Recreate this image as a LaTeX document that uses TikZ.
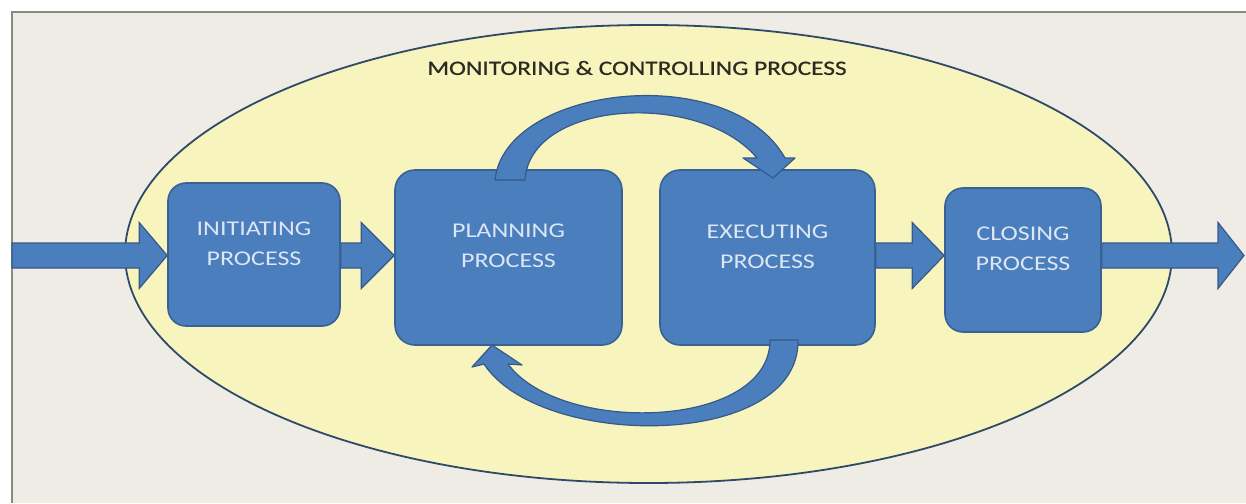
\documentclass[tikz,border=0pt]{standalone}
\usepackage{fontspec}
\setmainfont{Carlito}
\newfontfamily\widefont[FakeStretch=1.24]{Carlito}
\newfontfamily\titlefont[FakeStretch=1.24,FakeBold=0.6]{Carlito}
\usetikzlibrary{calc}
\pgfdeclarelayer{back}
\pgfdeclarelayer{mid}
\pgfsetlayers{back,mid,main}
\definecolor{pagebg}{HTML}{EEECE5}
\definecolor{frameline}{HTML}{8C8A80}
\definecolor{ellfill}{HTML}{F7F5BD}
\definecolor{ellline}{HTML}{2E4A68}
\definecolor{boxfill}{HTML}{4A7EBD}
\definecolor{boxline}{HTML}{3A6195}
\definecolor{boxtext}{HTML}{DCE6F4}
\definecolor{arrline}{HTML}{36598A}
\definecolor{titletext}{HTML}{2B2B22}
\tikzset{
  procbox/.style={draw=boxline, fill=boxfill, line width=1.6pt, rounded corners=18pt, inner sep=0pt},
  proctext/.style={text=boxtext, font=\widefont\fontsize{21}{30}\selectfont, align=center, inner sep=0pt},
  barrow/.style={draw=arrline, fill=boxfill, line width=1.2pt, line join=miter},
  carrow/.style={draw=arrline, fill=boxfill, line width=1.2pt, line join=round}
}
\newcommand{\blockarr}[3]{%
  \draw[barrow] let \p1=(#1), \p2=(#2) in
    (\x1,\y1+12.5pt) -- (\x2-#3,\y1+12.5pt) -- (\x2-#3,\y1+33pt) -- (\x2,\y1)
    -- (\x2-#3,\y1-33pt) -- (\x2-#3,\y1-12.5pt) -- (\x1,\y1-12.5pt) -- cycle;}
\begin{document}
\begin{tikzpicture}[x=1pt,y=-1pt]
\useasboundingbox (0,0) rectangle (1246,503);
\begin{pgfonlayer}{back}
\fill[white] (0,0) rectangle (1246,503);
\fill[pagebg] (12,12) rectangle (1246,503);
\draw[frameline, line width=1.5pt] (12,503) -- (12,12) -- (1246,12);
% outer ellipse
\draw[ellline, fill=ellfill, line width=1.8pt] (648.5,254) ellipse [x radius=523.5pt, y radius=229pt];
\end{pgfonlayer}
\node[font=\titlefont\fontsize{20.5}{24}\selectfont, text=titletext, inner sep=0pt] (title) at (637,68) {MONITORING \& CONTROLLING PROCESS};
% boxes
\node[procbox, minimum width=172pt, minimum height=143pt] (init) at (254,254.5) {};
\node[procbox, minimum width=227pt, minimum height=175pt, rounded corners=20pt] (plan) at (508.5,257.5) {};
\node[procbox, minimum width=215pt, minimum height=175pt, rounded corners=20pt] (exec) at (767.5,257.5) {};
\node[procbox, minimum width=156pt, minimum height=144pt] (close) at (1023,260) {};
% straight block arrows
\coordinate (in) at (12,255.5);
\coordinate (out) at (1244,255.5);
\begin{pgfonlayer}{mid}
\blockarr{in}{init.west |- in}{28pt}
\blockarr{init.east |- in}{plan.west |- in}{33pt}
\blockarr{exec.east |- in}{close.west |- in}{32pt}
\blockarr{close.east |- in}{out}{26pt}
\end{pgfonlayer}
% curved arrows
\draw[carrow] (495,180) .. controls (505,85) and (730,60) .. (785,158)
  -- (795,158) -- (773,178) -- (743,158) -- (757,158)
  .. controls (700,90) and (530,100) .. (525,180) -- cycle;
\draw[carrow] (798,340) .. controls (800,450) and (540,450) .. (484,364)
  -- (472,367) -- (492,345) -- (522,365) -- (508,364)
  .. controls (560,435) and (770,430) .. (770,340) -- cycle;
% texts
\node[proctext, yshift=11pt] (initT) at (init.center) {INITIATING\\PROCESS};
\node[proctext, yshift=11.5pt] (planT) at (plan.center) {PLANNING\\PROCESS};
\node[proctext, yshift=10.5pt] (execT) at (exec.center) {EXECUTING\\PROCESS};
\node[proctext, yshift=11pt] (closeT) at (close.center) {CLOSING\\PROCESS};
\end{tikzpicture}
\end{document}
